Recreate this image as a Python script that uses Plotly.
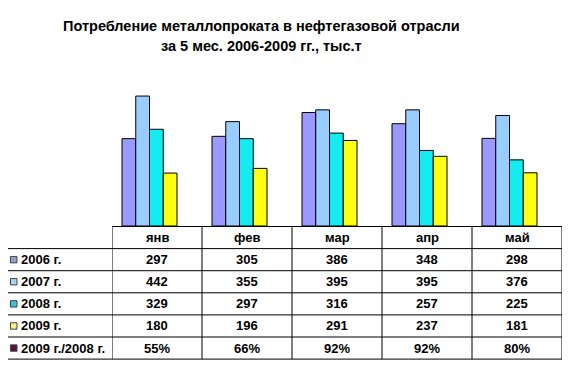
import plotly.graph_objects as go

months = ["янв", "фев", "мар", "апр", "май"]
series_names = ["2006 г.", "2007 г.", "2008 г.", "2009 г."]
v2006 = [297, 305, 386, 348, 298]
v2007 = [442, 355, 395, 395, 376]
v2008 = [329, 297, 316, 257, 225]
v2009 = [180, 196, 291, 237, 181]
ratio_name = "2009 г./2008 г."
ratio = [55, 66, 92, 92, 80]
title_lines = ["Потребление металлопроката в нефтегазовой отрасли",
               "за 5 мес. 2006-2009 гг., тыс.т"]

colors = ["#9999FF", "#99CCFF", "#14ECF0", "#FFFF10"]
key_colors = ["#9A9ACC", "#A8D4EE", "#30C8D8", "#F8F080", "#5A1040"]
values = [v2006, v2007, v2008, v2009]

# page body has an 8px default margin: figure is drawn 8px smaller and
# reference pixel positions are shifted by OFF
OFF = 8
W, H = 583 - OFF, 367 - OFF
L, R, T, B = 112 - OFF, 21, 79 - OFF, 141
PW, PH = W - L - R, H - T - B
FONT = "Liberation Sans, Arial, sans-serif"


def xp(px):
    return (px - OFF - L) / PW


def yp(py):
    return (H - B - (py - OFF)) / PH


fig = go.Figure()
bw = 13.75 / 90
for k, (name, vals) in enumerate(zip(series_names, values)):
    fig.add_trace(go.Bar(
        x=months, y=vals, name=name,
        width=bw, offset=-0.5 + (10 + 13.75 * k) / 90,
        marker=dict(color=colors[k], line=dict(color="black", width=1)),
        showlegend=False, hoverinfo="skip"))

shapes = []
annotations = []
line = dict(color="black", width=1)
row_lines = [226.5 + 22.1 * i for i in range(7)]
left_px = 6
shapes.append(dict(type="line", xref="paper", yref="paper",
                   x0=0, x1=1, y0=yp(row_lines[0]), y1=yp(row_lines[0]), line=line))
for py in row_lines[1:]:
    shapes.append(dict(type="line", xref="paper", yref="paper",
                       x0=xp(left_px), x1=1, y0=yp(py), y1=yp(py), line=line))
for i in range(len(months) + 1):
    shapes.append(dict(type="line", xref="x", yref="paper",
                       x0=i - 0.5, x1=i - 0.5, y0=yp(row_lines[0]), y1=yp(row_lines[-1]),
                       line=line))
shapes.append(dict(type="line", xref="paper", yref="paper",
                   x0=xp(left_px), x1=xp(left_px), y0=yp(row_lines[1]), y1=yp(row_lines[-1]),
                   line=line))

tfont = dict(family=FONT, size=13, color="black")
for m in months:
    annotations.append(dict(x=m, xref="x", yref="paper",
                            y=yp((row_lines[0] + row_lines[1]) / 2),
                            text="<b>%s</b>" % m, showarrow=False, font=tfont,
                            xanchor="center", yanchor="middle"))
row_labels = series_names + [ratio_name]
row_texts = [[str(v) for v in vals] for vals in values] + [["%d%%" % r for r in ratio]]
for r, (lab, texts) in enumerate(zip(row_labels, row_texts)):
    cy = (row_lines[r + 1] + row_lines[r + 2]) / 2
    annotations.append(dict(x=xp(19), xref="paper", yref="paper", y=yp(cy),
                            text="<b>%s</b>" % lab, showarrow=False, font=tfont,
                            xanchor="left", yanchor="middle"))
    shapes.append(dict(type="rect", xref="paper", yref="paper",
                       x0=xp(10.5), x1=xp(17), y0=yp(cy - 3.2), y1=yp(cy + 3.2),
                       fillcolor=key_colors[r], line=dict(color="#444444", width=1)))
    for m, t in zip(months, texts):
        annotations.append(dict(x=m, xref="x", yref="paper", y=yp(cy),
                                text="<b>%s</b>" % t, showarrow=False, font=tfont,
                                xanchor="center", yanchor="middle"))

for tl, py in zip(title_lines, [26.5, 45.5]):
    annotations.append(dict(x=xp(261), y=yp(py), xref="paper", yref="paper",
                            text="<b>%s</b>" % tl, showarrow=False,
                            font=dict(family=FONT, size=14.5, color="black"),
                            xanchor="center", yanchor="middle"))

fig.update_layout(
    width=W, height=H,
    margin=dict(l=L, r=R, t=T, b=B),
    paper_bgcolor="white", plot_bgcolor="white",
    barmode="overlay",
    xaxis=dict(visible=False, range=[-0.5, 4.5], type="category"),
    yaxis=dict(visible=False, range=[0, 500]),
    shapes=shapes, annotations=annotations,
    showlegend=False,
)
fig.write_html("out.html")
